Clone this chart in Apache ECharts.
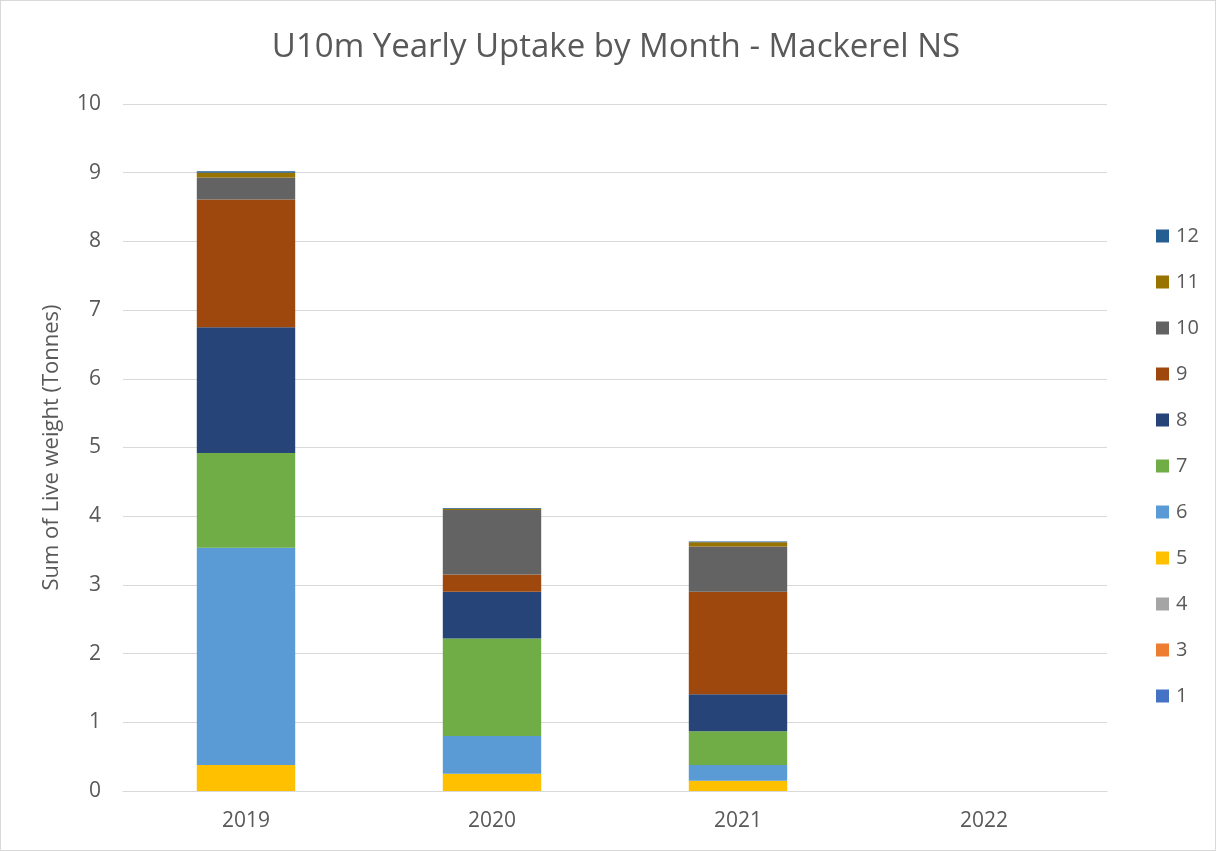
<!DOCTYPE html>
<html>
<head>
<meta charset="utf-8">
<script src="https://cdn.jsdelivr.net/npm/echarts@6/dist/echarts.min.js"></script>
<style>
html, body { margin: 0; padding: 0; background: #fff; }
#main { width: 1216px; height: 851px; box-sizing: border-box; border: 1px solid #d9d9d9; }
</style>
</head>
<body>
<div id="main"></div>
<script>
// 年份
var years = ['2019', '2020', '2021', '2022'];

// 各月份数据 (吨)
var m1 = [0, 0, 0, 0];
var m3 = [0, 0, 0, 0];
var m4 = [0, 0, 0, 0];
var m5 = [0.38, 0.25, 0.15, 0];
var m6 = [3.16, 0.55, 0.23, 0];
var m7 = [1.38, 1.42, 0.49, 0];
var m8 = [1.83, 0.68, 0.54, 0];
var m9 = [1.86, 0.25, 1.49, 0];
var m10 = [0.32, 0.94, 0.66, 0];
var m11 = [0.07, 0.02, 0.06, 0];
var m12 = [0.02, 0.01, 0.01, 0];

var monthNames = ['1', '3', '4', '5', '6', '7', '8', '9', '10', '11', '12'];
var monthData = [m1, m3, m4, m5, m6, m7, m8, m9, m10, m11, m12];
var colors = ['#4472C4', '#ED7D31', '#A5A5A5', '#FFC000', '#5B9BD5', '#70AD47',
	'#264478', '#9E480E', '#636363', '#997300', '#255E91'];

var font = 'Open Sans, Liberation Sans, sans-serif';
var myChart = echarts.init(document.getElementById('main'));

var series = [];
for (var i = 0; i < monthNames.length; ++i) {
	series.push({
		name: monthNames[i],
		type: 'bar',
		stack: 'total',
		barWidth: '40%',
		data: monthData[i],
		itemStyle: { color: colors[i] }
	});
}

var option = {
	animation: false,
	title: {
		text: 'U10m Yearly Uptake by Month - Mackerel NS',
		left: 610,
		textAlign: 'center',
		top: 25,
		textStyle: { fontFamily: font, fontSize: 33, fontWeight: 'normal', color: '#595959' }
	},
	legend: {
		orient: 'vertical',
		left: 1150,
		top: 220,
		itemWidth: 13,
		itemHeight: 13,
		itemGap: 26,
		icon: 'rect',
		data: monthNames.slice().reverse(),
		textStyle: { fontFamily: font, fontSize: 20, color: '#595959', padding: [0, 0, 0, 2] }
	},
	grid: {
		left: 122,
		right: 108,
		top: 103,
		bottom: 59
	},
	xAxis: {
		type: 'category',
		data: years,
		axisLine: { lineStyle: { color: '#d9d9d9', width: 1 } },
		axisTick: { show: false },
		axisLabel: { fontFamily: font, fontSize: 21, color: '#595959', margin: 20 }
	},
	yAxis: {
		type: 'value',
		min: 0,
		max: 10,
		interval: 1,
		name: 'Sum of Live weight (Tonnes)',
		nameLocation: 'middle',
		nameGap: 60,
		nameTextStyle: { fontFamily: font, fontSize: 22, color: '#595959' },
		axisLine: { show: false },
		axisTick: { show: false },
		splitLine: { lineStyle: { color: '#d9d9d9', width: 1 } },
		axisLabel: { fontFamily: font, fontSize: 21, color: '#595959', margin: 22 }
	},
	series: series
};

myChart.setOption(option);
</script>
</body>
</html>
